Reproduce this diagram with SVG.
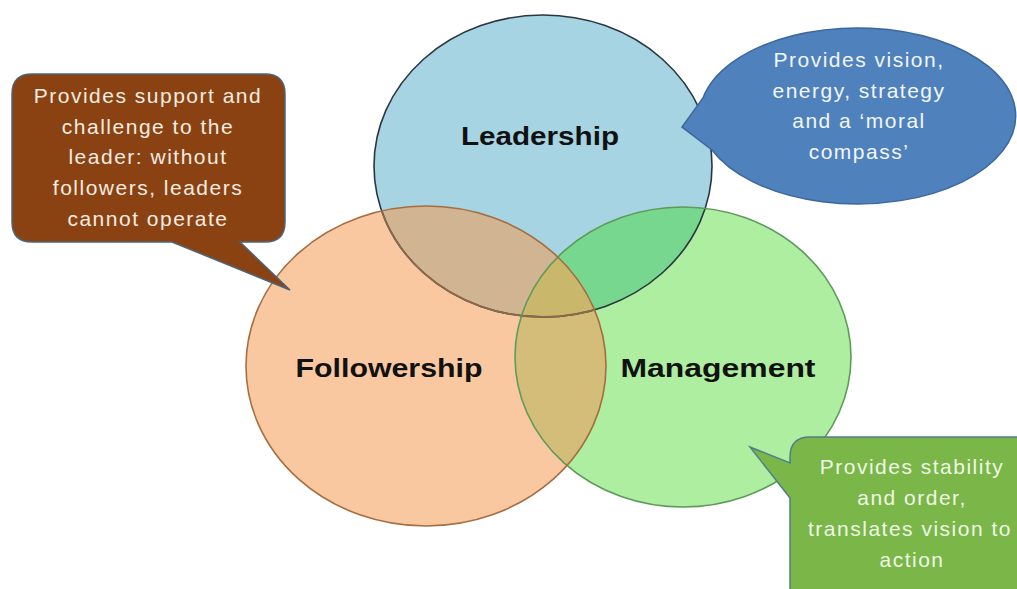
<svg xmlns="http://www.w3.org/2000/svg" width="1017" height="589" viewBox="0 0 1017 589">
  <style>
    .label { font-family: "Liberation Sans", Arial, sans-serif; font-weight: bold; font-size: 26px; fill: #111; text-anchor: middle; }
    .note { font-family: "Liberation Sans", Arial, sans-serif; font-size: 21px; letter-spacing: 1.5px; text-anchor: middle; }
  </style>
  <defs>
    <ellipse id="eL" cx="543" cy="166" rx="169" ry="151"/>
    <ellipse id="eF" cx="426" cy="366" rx="180" ry="160"/>
    <ellipse id="eM" cx="683" cy="357" rx="168" ry="150"/>
    <clipPath id="clipL"><use href="#eL"/></clipPath>
    <clipPath id="clipF"><use href="#eF"/></clipPath>
    <clipPath id="clipM"><use href="#eM"/></clipPath>
  </defs>
  <rect width="1017" height="589" fill="#ffffff"/>

  <!-- Venn circles -->
  <g id="venn">
    <g id="leadership">
      <use href="#eL" fill="#a7d4e2"/>
    </g>
    <g id="followership">
      <use href="#eF" fill="#f9c8a0"/>
    </g>
    <g id="management">
      <use href="#eM" fill="#aeeea0"/>
    </g>
    <!-- overlap regions -->
    <g clip-path="url(#clipL)"><use href="#eF" fill="#d1b593"/></g>
    <g clip-path="url(#clipL)"><use href="#eM" fill="#78d78e"/></g>
    <g clip-path="url(#clipF)"><use href="#eM" fill="#d4bd78"/></g>
    <g clip-path="url(#clipL)"><g clip-path="url(#clipF)"><use href="#eM" fill="#c9b76c"/></g></g>
    <!-- outlines -->
    <use href="#eL" fill="none" stroke="#2a3640" stroke-width="1.6"/>
    <g clip-path="url(#clipF)"><use href="#eL" fill="none" stroke="#8a6a48" stroke-width="1.8"/></g>
    <use href="#eM" fill="none" stroke="#5e9a58" stroke-width="1.6"/>
    <use href="#eF" fill="none" stroke="#a66d40" stroke-width="1.6"/>
    <text class="label" x="540" y="145" textLength="158" lengthAdjust="spacingAndGlyphs">Leadership</text>
    <text class="label" x="389" y="377" textLength="187" lengthAdjust="spacingAndGlyphs">Followership</text>
    <text class="label" x="718" y="377" textLength="195" lengthAdjust="spacingAndGlyphs">Management</text>
  </g>

  <!-- Callouts -->
  <g id="callout-followership">
    <path d="M32,74 H265 Q285,74 285,94 V222 Q285,242 265,242 H240 L290,290 L172,242 H32 Q12,242 12,222 V94 Q12,74 32,74 Z" fill="#8b4212" stroke="#4d6478" stroke-width="1.5"/>
    <g class="note" fill="#f4ece0">
      <text x="148" y="103">Provides support and</text>
      <text x="148" y="134">challenge to the</text>
      <text x="148" y="164">leader: without</text>
      <text x="148" y="195">followers, leaders</text>
      <text x="148" y="226">cannot operate</text>
    </g>
  </g>

  <g id="callout-leadership">
    <path d="M703,98 A158,88 0 1 1 712,150 L682,127 Z" fill="#4f81bd" stroke="#3b679c" stroke-width="1.5"/>
    <g class="note" fill="#f2f6fb">
      <text x="859" y="67">Provides vision,</text>
      <text x="859" y="98">energy, strategy</text>
      <text x="859" y="128">and a ‘moral</text>
      <text x="859" y="159">compass’</text>
    </g>
  </g>

  <g id="callout-management">
    <path d="M810,437 H1030 V600 H790 V498 L750,447 L790,463 V457 Q790,437 810,437 Z" fill="#7ab648" stroke="#4f7f8a" stroke-width="1.5"/>
    <g class="note" fill="#eef8e6">
      <text x="912" y="474">Provides stability</text>
      <text x="912" y="505">and order,</text>
      <text x="910" y="536">translates vision to</text>
      <text x="912" y="567">action</text>
    </g>
  </g>
</svg>
